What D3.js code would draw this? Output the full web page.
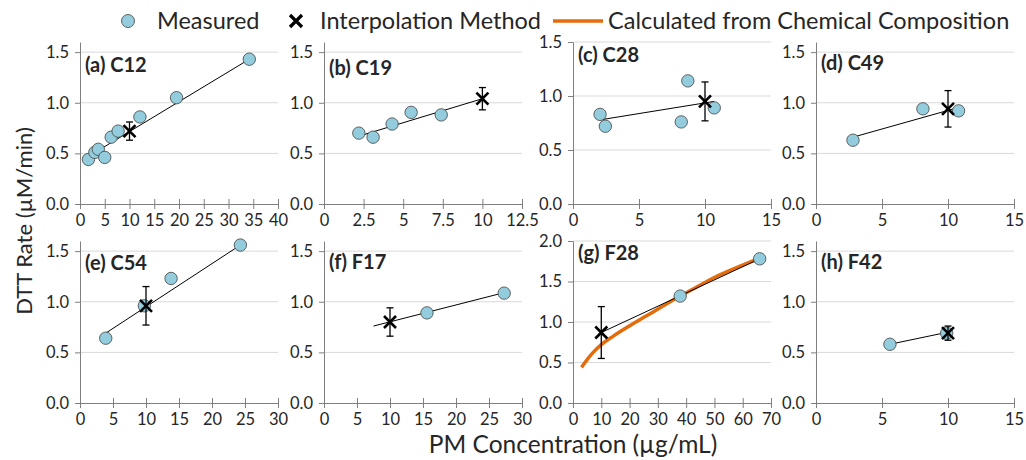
<!DOCTYPE html>
<html>
<head>
<meta charset="utf-8">
<script src="https://cdn.jsdelivr.net/npm/d3@7"></script>
<style>
  body { margin: 0; background: #fff; }
  text { font-family: Lato, "Open Sans", sans-serif; fill: #262626; }
</style>
</head>
<body>
<svg id="chart" width="1026" height="460"></svg>
<script>
// ---- data ----
const panelNames = ["(a) C12", "(b) C19", "(c) C28", "(d) C49", "(e) C54", "(f) F17", "(g) F28", "(h) F42"];
const xMax  = [40, 12.5, 15, 15, 30, 30, 70, 15];
const xStep = [5, 2.5, 5, 5, 5, 5, 10, 5];
const yMax  = [1.6, 1.6, 1.5, 1.6, 1.6, 1.6, 2.0, 1.6];

// measured samples (PM concentration, DTT rate)
const measuredX = [
  [1.7, 3.0, 3.7, 5.0, 6.3, 7.7, 12.1, 19.5, 34.2],
  [2.2, 3.1, 4.3, 5.5, 7.4],
  [2.05, 2.45, 8.2, 8.7, 10.7],
  [2.8, 8.1, 10.8],
  [3.9, 9.75, 13.8, 24.3],
  [15.6, 27.3],
  [37.9, 66.0],
  [5.6, 9.9]
];
const measuredY = [
  [0.44, 0.51, 0.54, 0.46, 0.66, 0.72, 0.86, 1.05, 1.43],
  [0.70, 0.66, 0.79, 0.905, 0.88],
  [0.83, 0.72, 0.76, 1.14, 0.89],
  [0.63, 0.94, 0.92],
  [0.64, 0.96, 1.23, 1.56],
  [0.89, 1.085],
  [1.32, 1.78],
  [0.58, 0.69]
];

// interpolated value at 10 ug/mL with error bar half-width
const interpX   = [10, 10, 10, 10, 10, 10, 10, 10];
const interpY   = [0.72, 1.04, 0.95, 0.94, 0.96, 0.80, 0.87, 0.69];
const interpErr = [0.09, 0.11, 0.18, 0.18, 0.19, 0.14, 0.32, 0.07];

// interpolation line endpoints
const fitX = [[1.7, 34.2], [2.2, 10], [2.1, 10.7], [2.8, 10.7], [3.9, 24.3], [7.5, 27.3], [10, 66.0], [5.6, 10]];
const fitY = [[0.47, 1.43], [0.67, 1.04], [0.78, 0.95], [0.66, 0.95], [0.69, 1.56], [0.76, 1.09], [0.87, 1.78], [0.58, 0.70]];

// calculated from chemical composition (panel g only)
const chemX = [3.0, 6.5, 10.0, 14.0, 19.9, 25.7, 31.5, 37.9, 43.1, 50.0, 57.0, 66.0];
const chemY = [0.44, 0.60, 0.72, 0.82, 0.95, 1.07, 1.19, 1.32, 1.42, 1.55, 1.66, 1.79];

// ---- layout ----
const colLeft = [80, 324, 573, 816];
const rowBottom = [204, 403];
const plotW = 198, plotH = 162;
const labelDy = [30, 33, 20, 28, 29, 28, 19, 28];

const svg = d3.select("#chart");
const blue = "#93cddd", orange = "#e46c0a";

panelNames.forEach((name, i) => {
  const x0 = colLeft[i % 4];
  const y0 = rowBottom[Math.floor(i / 4)];
  const x = d3.scaleLinear().domain([0, xMax[i]]).range([x0, x0 + plotW]);
  const y = d3.scaleLinear().domain([0, yMax[i]]).range([y0, y0 - plotH]);
  const g = svg.append("g");

  // gridlines
  const yt = d3.range(0.5, yMax[i] + 0.001, 0.5);
  g.selectAll(".grid").data(yt).enter().append("line")
    .attr("x1", x0).attr("x2", x0 + plotW)
    .attr("y1", d => y(d)).attr("y2", d => y(d))
    .attr("stroke", "#d9d9d9").attr("stroke-width", 1);

  // x axis (ticks crossing)
  const xt = d3.range(0, xMax[i] + 0.001, xStep[i]);
  const xa = d3.axisBottom(x).tickValues(xt).tickSizeInner(6).tickSizeOuter(0)
    .tickFormat(d => d3.format("~g")(d));
  const xg = g.append("g").attr("transform", `translate(0,${y0})`).call(xa);
  xg.select(".domain").attr("stroke", "#7f7f7f");
  xg.selectAll(".tick line").attr("stroke", "#7f7f7f").attr("y1", -5).attr("y2", 5);
  xg.selectAll(".tick text").attr("y", 10).attr("dy", "0.71em")
    .style("font-size", "16.5px").style("font-family", "Lato, sans-serif").attr("fill", "#262626");

  // y axis
  const ya = d3.axisLeft(y).tickValues(d3.range(0, yMax[i] + 0.001, 0.5)).tickSizeInner(5).tickSizeOuter(0)
    .tickFormat(d3.format(".1f"));
  const yg = g.append("g").attr("transform", `translate(${x0},0)`).call(ya);
  yg.select(".domain").attr("stroke", "#7f7f7f");
  yg.selectAll(".tick line").attr("stroke", "#7f7f7f").attr("x1", -5).attr("x2", 0);
  yg.selectAll(".tick text").attr("x", -11)
    .style("font-size", "16.5px").style("font-family", "Lato, sans-serif").attr("fill", "#262626");

  // chemical composition curve
  if (i === 6) {
    const pts = chemX.map((v, k) => [v, chemY[k]]);
    g.append("path").datum(pts)
      .attr("d", d3.line().x(d => x(d[0])).y(d => y(d[1])).curve(d3.curveMonotoneX))
      .attr("fill", "none").attr("stroke", orange).attr("stroke-width", 3.5);
  }

  // interpolation line
  g.append("line")
    .attr("x1", x(fitX[i][0])).attr("y1", y(fitY[i][0]))
    .attr("x2", x(fitX[i][1])).attr("y2", y(fitY[i][1]))
    .attr("stroke", "#000").attr("stroke-width", 1);

  // measured points
  g.selectAll(".pt").data(measuredX[i].map((v, k) => [v, measuredY[i][k]])).enter()
    .append("circle")
    .attr("cx", d => x(d[0])).attr("cy", d => y(d[1])).attr("r", 6.2)
    .attr("fill", blue).attr("stroke", "#404040").attr("stroke-width", 0.8);

  // interpolation marker with error bar
  const cx = x(interpX[i]), cy = y(interpY[i]);
  const top = y(interpY[i] + interpErr[i]), bot = y(interpY[i] - interpErr[i]);
  g.append("line").attr("x1", cx).attr("x2", cx).attr("y1", top).attr("y2", bot)
    .attr("stroke", "#000").attr("stroke-width", 1.3);
  [top, bot].forEach(v => g.append("line").attr("x1", cx - 3.5).attr("x2", cx + 3.5)
    .attr("y1", v).attr("y2", v).attr("stroke", "#000").attr("stroke-width", 1.3));
  g.append("path")
    .attr("d", `M${cx - 6},${cy - 6}L${cx + 6},${cy + 6}M${cx - 6},${cy + 6}L${cx + 6},${cy - 6}`)
    .attr("stroke", "#000").attr("stroke-width", 2.6);

  // panel label
  g.append("text").attr("x", x0 + 5).attr("y", y0 - plotH + labelDy[i])
    .style("font-size", "20px").style("font-weight", "bold").text(name);
});

// axis titles
svg.append("text").attr("x", 573).attr("y", 453).attr("text-anchor", "middle")
  .style("font-size", "24.5px").text("PM Concentration (\u00b5g/mL)");
svg.append("text").attr("transform", "translate(32,221) rotate(-90)").attr("text-anchor", "middle")
  .style("font-size", "22px").text("DTT Rate (\u00b5M/min)");

// legend
const lg = svg.append("g");
lg.append("circle").attr("cx", 128).attr("cy", 21).attr("r", 6.5)
  .attr("fill", blue).attr("stroke", "#404040").attr("stroke-width", 0.8);
lg.append("text").attr("x", 157).attr("y", 29).style("font-size", "23.5px").text("Measured");
lg.append("path").attr("d", "M290,15L302,27M290,27L302,15").attr("stroke", "#000").attr("stroke-width", 3.2);
lg.append("text").attr("x", 320).attr("y", 29).style("font-size", "23.5px").text("Interpolation Method");
lg.append("line").attr("x1", 553).attr("x2", 603).attr("y1", 21).attr("y2", 21)
  .attr("stroke", orange).attr("stroke-width", 3.5);
lg.append("text").attr("x", 608).attr("y", 29).style("font-size", "23.5px").text("Calculated from Chemical Composition");
</script>
</body>
</html>
